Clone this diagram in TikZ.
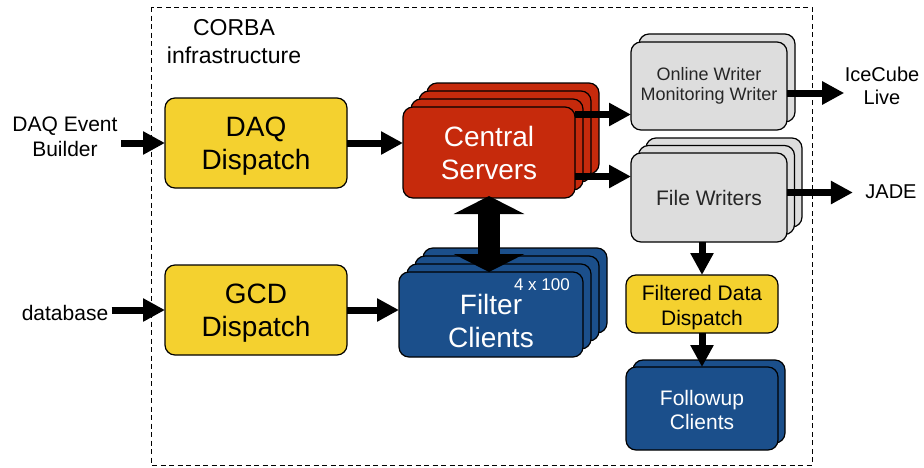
\documentclass[tikz,border=0pt]{standalone}
\usepackage{fontspec}
\setmainfont{Liberation Sans}
\usetikzlibrary{arrows.meta,positioning,shadows,calc}
\definecolor{corbaYellow}{HTML}{F4D12F}
\definecolor{corbaRed}{HTML}{C62A0C}
\definecolor{corbaBlue}{HTML}{1B4F8B}
\definecolor{corbaGray}{HTML}{DDDDDD}
\newcommand{\lowerby}[1]{\rule{0pt}{#1}}
\tikzset{
  box/.style={rectangle, rounded corners=10pt, draw=black, line width=1.2pt, inner sep=0pt, outer sep=0pt, align=center},
  dispatch/.style={box, fill=corbaYellow, minimum width=182pt, minimum height=90pt, font=\fontsize{28}{33}\selectfont},
  server/.style={box, fill=corbaRed, text=white, minimum width=172pt, minimum height=91pt, font=\fontsize{28}{33}\selectfont},
  client/.style={box, fill=corbaBlue, text=white, minimum width=184pt, minimum height=85pt, font=\fontsize{28}{33}\selectfont},
  writer/.style={box, fill=corbaGray, text=black!85, minimum width=156pt, minimum height=88pt, font=\fontsize{21}{25}\selectfont},
  layer/.style={copy shadow={shadow xshift=#1, shadow yshift=#1}},
  extlabel/.style={align=center, font=\fontsize{21}{25}\selectfont},
  arrow/.style={line width=7pt, -{Triangle[length=22pt,width=22pt]}},
  bigarrow/.style={line width=22pt, {Triangle[length=18pt,width=70pt]}-{Triangle[length=18pt,width=70pt]}}
}
\begin{document}
\begin{tikzpicture}[x=1pt,y=-1pt]
\useasboundingbox (0,0) rectangle (924,467);

% CORBA frame
\draw[dashed, line width=0.8pt, dash pattern=on 5pt off 3.5pt] (151,7) rectangle (812,465);
\node[extlabel, font=\fontsize{23}{28}\selectfont] (corba) at (234,42) {CORBA\\infrastructure};

% dispatchers
\node[dispatch] (daq) at (256,143) {\lowerby{26pt}DAQ\\Dispatch};
\node[dispatch, below=77pt of daq] (gcd) {\lowerby{26pt}GCD\\Dispatch};

% servers and clients
\node[server, layer=24pt, layer=16pt, layer=8pt] (cs) at (489,152.5) {Central\\Servers};
\node[client, layer=24pt, layer=16pt, layer=8pt] (fc) at (491,314.5) {\lowerby{33pt}Filter\\Clients};
\node[anchor=north east, inner sep=0pt, text=white, font=\fontsize{17}{20}\selectfont] (count) at ([xshift=-13pt,yshift=-6pt]fc.north east) {4 x 100};

% writers
\node[writer, layer=8pt, font=\fontsize{18}{20}\selectfont] (ow) at (709,86) {Online Writer\\Monitoring Writer};
\node[writer, layer=15pt, layer=7.5pt, minimum height=89pt, below=23pt of ow] (fw) {File Writers};
\node[box, fill=corbaYellow, minimum width=152pt, minimum height=58pt, font=\fontsize{21}{25}\selectfont] (fdd) at (702,304) {\lowerby{23pt}Filtered Data\\Dispatch};
\node[box, fill=corbaBlue, text=white, layer=7pt, minimum width=152pt, minimum height=83pt, font=\fontsize{21}{24}\selectfont, below=34pt of fdd] (fu) {\lowerby{19pt}Followup\\Clients};

% outside
\node[extlabel] (dab) at (65,137) {DAQ Event\\Builder};
\node[extlabel] (db) at (65,313) {database};
\node[extlabel, font=\fontsize{20}{23}\selectfont] (ice) at (882,86) {IceCube\\Live};
\node[extlabel, font=\fontsize{20}{23}\selectfont] (jade) at (891,192) {JADE};

\draw[arrow] (dab.east |- daq.west) -- (daq.west);
\draw[arrow] (db.east |- gcd.west) -- (gcd.west);
\draw[arrow] (daq.east) -- (daq.east -| cs.west);
\draw[arrow] (gcd.east) -- (gcd.east -| fc.west);
\draw[arrow] ([yshift=38pt]cs.east) -- ([yshift=38pt]cs.east -| ow.west);
\draw[arrow] ([yshift=-24pt]cs.east) -- ([yshift=-24pt]cs.east -| fw.west);
\draw[bigarrow, shorten <=-2pt] (cs.south) -- (cs.south |- fc.north);
\draw[arrow, shorten >=-3pt] ([yshift=-7pt]ow.east) -- ([yshift=-7pt]ow.east -| ice.west);
\draw[arrow, shorten >=9pt] ([yshift=5pt]fw.east) -- ([yshift=5pt]fw.east -| jade.west);
\draw[arrow] (fdd.north |- fw.south) -- (fdd.north);
\draw[arrow] (fdd.south) -- (fu.north);

\end{tikzpicture}
\end{document}
